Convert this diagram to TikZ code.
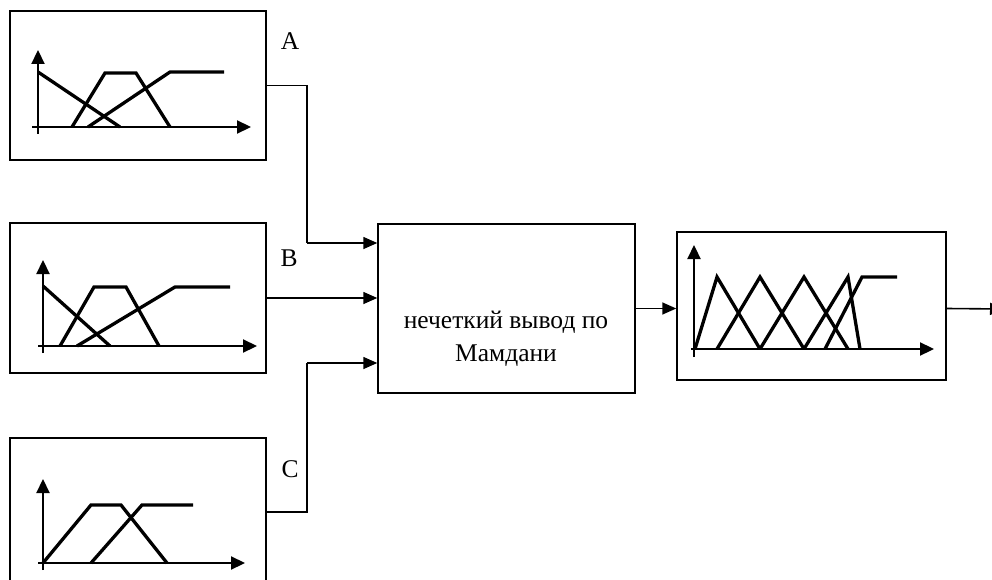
\documentclass[tikz,border=0pt]{standalone}
\usepackage{fontspec}
\setmainfont{Liberation Serif}
\usetikzlibrary{arrows.meta,calc}
\begin{document}
\begin{tikzpicture}[x=1pt,y=-1pt,
  box/.style={draw,line width=1.5pt,inner sep=0pt},
  conn/.style={line width=1.6pt,-{Triangle[length=14pt,width=12pt]}},
  wire/.style={line width=1.6pt},
  axis/.style={line width=2.2pt,-{Triangle[length=14pt,width=13pt]}},
  curve/.style={line width=3.3pt,line join=miter},
  lbl/.style={font=\fontsize{25.5}{28}\selectfont,inner sep=0pt}]
\useasboundingbox (0,0) rectangle (992,580);
% boxes
\node[box,minimum width=256pt,minimum height=149pt] (A) at (138,85.5) {};
\node[box,minimum width=256pt,minimum height=150pt] (B) at (138,298) {};
\node[box,minimum width=256pt,minimum height=148pt] (C) at (138,512) {};
\node[box,minimum width=257pt,minimum height=169pt] (main) at (506.5,308.5) {};
\node[align=center,inner sep=0pt,font=\fontsize{25.5}{33}\selectfont] (mt) at (506,339) {нечеткий вывод по\\Мамдани};
\node[box,minimum width=269pt,minimum height=148pt] (out) at (811.5,306) {};
% labels
\node[lbl,anchor=base] (la) at (290,50) {A};
\node[lbl,anchor=base] (lb) at (289,266) {B};
\node[lbl,anchor=base] (lc) at (290,477) {C};
% connectors
\coordinate (ja) at (307,243);
\coordinate (jc) at (307,363);
\draw[wire] (A.east) -| (ja);
\draw[conn] (ja) -- (ja -| main.west);
\draw[conn] (B.east) -- (B.east -| main.west);
\draw[wire] (C.east) -| (jc);
\draw[conn] (jc) -- (jc -| main.west);
\draw[conn] (main.east) -- (main.east -| out.west);
\coordinate (end) at (1004,309);
\draw[conn] (out.east |- main.east) -- (end);
% graph A
\draw[axis] (38,134) -- (38,50);
\draw[axis] (32,127) -- (251,127);
\draw[curve] (38,72) -- (120,127);
\draw[curve] (72,127) -- (105,73) -- (136,73) -- (170,127);
\draw[curve] (88,127) -- (170,72) -- (224,72);
% graph B
\draw[axis] (43,353) -- (43,260);
\draw[axis] (38,346) -- (257,346);
\draw[curve] (43,286) -- (110,346);
\draw[curve] (60,346) -- (94,287) -- (126,287) -- (159,346);
\draw[curve] (77,346) -- (175,287) -- (230,287);
% graph C
\draw[axis] (43,570) -- (43,479);
\draw[axis] (38,563) -- (245,563);
\draw[curve] (43,563) -- (91,505) -- (121,505) -- (167,563);
\draw[curve] (91,563) -- (142,505) -- (193,505);
% output graph
\draw[axis] (694,357) -- (694,245);
\draw[axis] (691,349) -- (934,349);
\draw[curve] (695,349) -- (717,277) -- (760,349);
\draw[curve] (717,349) -- (760,277) -- (804,349);
\draw[curve] (760,349) -- (804,277) -- (848,349);
\draw[curve] (804,349) -- (848,277) -- (860,349);
\draw[curve] (825,349) -- (862,277) -- (897,277);
\end{tikzpicture}
\end{document}
